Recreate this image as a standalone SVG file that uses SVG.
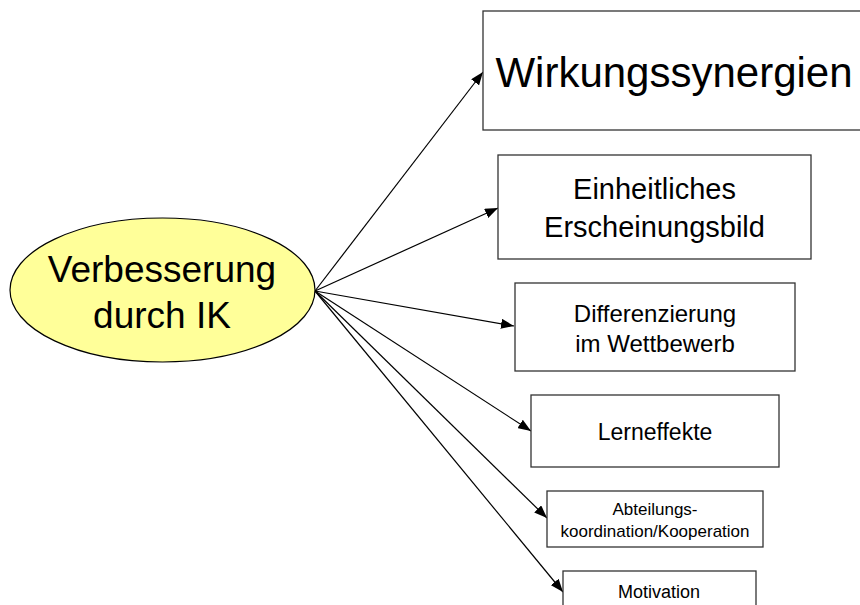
<svg xmlns="http://www.w3.org/2000/svg" width="860" height="605" viewBox="0 0 860 605">
  <style>
    .box { fill: #ffffff; stroke: #333333; stroke-width: 1.3; }
    .hub { fill: #ffff99; stroke: #000000; stroke-width: 1.2; }
    .lbl { font-family: "Liberation Sans", Arial, sans-serif; fill: #000000; text-anchor: middle; }
    .edge { stroke: #000000; stroke-width: 1.2; fill: none; marker-end: url(#arrow); }
  </style>
  <defs>
    <marker id="arrow" markerUnits="userSpaceOnUse" markerWidth="14" markerHeight="10" refX="13" refY="5" orient="auto">
      <path d="M0,0 L13,5 L0,10 Z" fill="#000000"/>
    </marker>
  </defs>

  <rect width="860" height="605" fill="#ffffff"/>

  <g id="connectors">
    <line class="edge" x1="315" y1="291" x2="483" y2="72"/>
    <line class="edge" x1="315" y1="291" x2="498" y2="208"/>
    <line class="edge" x1="315" y1="291" x2="514" y2="326"/>
    <line class="edge" x1="315" y1="291" x2="531" y2="431"/>
    <line class="edge" x1="315" y1="291" x2="547" y2="518"/>
    <line class="edge" x1="315" y1="291" x2="563" y2="592"/>
  </g>

  <g id="hub">
    <ellipse class="hub" cx="162.5" cy="290" rx="152.5" ry="72"/>
    <text class="lbl" x="162" y="282" font-size="37">Verbesserung</text>
    <text class="lbl" x="162" y="328" font-size="37">durch IK</text>
  </g>

  <g id="wirkungssynergien">
    <rect class="box" x="483" y="11" width="390" height="119"/>
    <text class="lbl" x="674" y="87" font-size="42">Wirkungssynergien</text>
  </g>

  <g id="erscheinungsbild">
    <rect class="box" x="498" y="155" width="313" height="104"/>
    <text class="lbl" x="654.5" y="199" font-size="29">Einheitliches</text>
    <text class="lbl" x="654.5" y="237" font-size="29">Erscheinungsbild</text>
  </g>

  <g id="differenzierung">
    <rect class="box" x="515" y="283" width="280" height="88"/>
    <text class="lbl" x="655" y="322" font-size="24">Differenzierung</text>
    <text class="lbl" x="655" y="352" font-size="24">im Wettbewerb</text>
  </g>

  <g id="lerneffekte">
    <rect class="box" x="531" y="395" width="248" height="72"/>
    <text class="lbl" x="655" y="440" font-size="23">Lerneffekte</text>
  </g>

  <g id="koordination">
    <rect class="box" x="547" y="491" width="216" height="56"/>
    <text class="lbl" x="655" y="515" font-size="17">Abteilungs-</text>
    <text class="lbl" x="655" y="537" font-size="17">koordination/Kooperation</text>
  </g>

  <g id="motivation">
    <rect class="box" x="563" y="571" width="193" height="60"/>
    <text class="lbl" x="659" y="598" font-size="18">Motivation</text>
  </g>
</svg>
